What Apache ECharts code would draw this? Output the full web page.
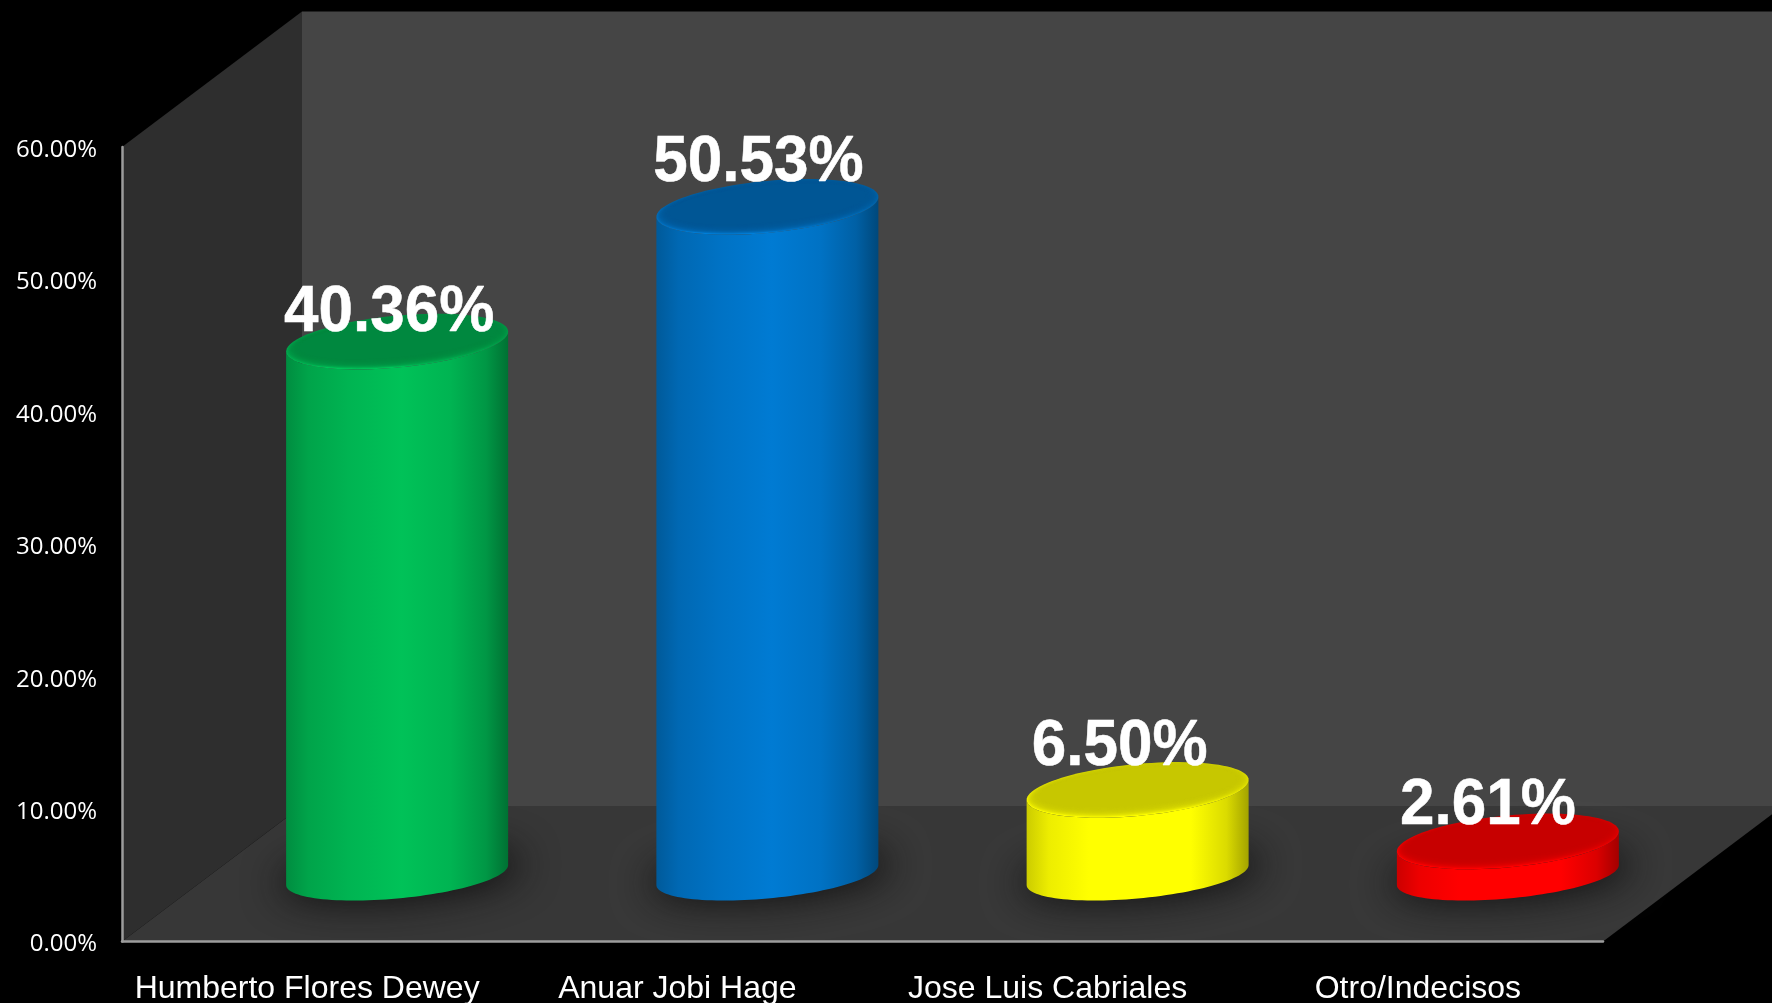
<!DOCTYPE html>
<html><head><meta charset="utf-8">
<style>html,body{margin:0;padding:0;background:#000;overflow:hidden}#c{width:1772px;height:1003px}</style>
<script src="https://cdn.jsdelivr.net/npm/echarts@6/dist/echarts.min.js"></script>
</head><body><div id="c"></div>
<script>
const categories = ['Humberto Flores Dewey', 'Anuar Jobi Hage', 'Jose Luis Cabriales', 'Otro/Indecisos'];
const values = [40.36, 50.53, 6.50, 2.61];
const barColors = [[0,176,80], [0,112,192], [255,255,0], [255,0,0]];
// manual label nudges of the source chart, in pixels from the cylinder's top centre
const labelNudgeX = [-8, -9, -18, -20];
const labelNudgeY = [-29, -44, -43, -36];

const DEPTH = [180, -135.5];
const BAR_SHIFT = [90, -65.5];
const RX = 111, TILT = 10;
const OFFSTAGE = 4000;

function shade(c, f, a) {
  const v = c.map(x => Math.min(255, Math.round(x * f)));
  return a == null ? `rgb(${v})` : `rgba(${v},${a})`;
}
function ell(cx, cy, a, b, s, t0, t1, n) {
  const p = [];
  for (let i = 0; i <= n; i++) {
    const t = t0 + (t1 - t0) * i / n;
    p.push([cx + a * Math.cos(t), cy + b * Math.sin(t) - s * Math.cos(t)]);
  }
  return p;
}
const grad = (x, y, x2, y2, stops) => new echarts.graphic.LinearGradient(x, y, x2, y2, stops);

function renderFrame(params, api) {
  const g = params.coordSys;
  const l = g.x, r = g.x + g.width, t = g.y, b = g.y + g.height;
  const dx = DEPTH[0], dy = DEPTH[1];
  const poly = (points, fill) => ({ type: 'polygon', shape: { points }, style: { fill } });
  return { type: 'group', children: [
    poly([[l + dx, t + dy], [r + dx, t + dy], [r + dx, b + dy], [l + dx, b + dy]], '#454545'),
    poly([[l, t], [l + dx, t + dy], [l + dx, b + dy], [l, b]], '#2e2e2e'),
    poly([[l, b], [l + dx, b + dy], [r + dx, b + dy], [r, b]], '#373737')
  ]};
}

function renderCylinder(params, api) {
  const i = api.value(0), v = api.value(1);
  const c0 = barColors[i];
  const p = api.coord([i, v]), p0 = api.coord([i, 0]);
  const cx = p[0] + BAR_SHIFT[0], ty = p[1] + BAR_SHIFT[1], by = p0[1] + BAR_SHIFT[1] - 1;
  const bT = 26, bB = 23.5;
  const side = grad(0, 0, 1, 0, [
    { offset: 0, color: shade(c0, 0.8) },
    { offset: 0.1, color: shade(c0, 0.93) },
    { offset: 0.28, color: shade(c0, 1.02) },
    { offset: 0.52, color: shade(c0, 1.1) },
    { offset: 0.74, color: shade(c0, 1.02) },
    { offset: 0.9, color: shade(c0, 0.86) },
    { offset: 1, color: shade(c0, 0.64) }
  ]);
  const outline = ell(cx, ty, RX, bT, TILT, Math.PI, 0, 40).concat(ell(cx, by, RX, bB, TILT, 0, Math.PI, 60));
  const rim = grad(0, 0, 0, 1, [
    { offset: 0, color: shade(c0, 0.8) },
    { offset: 0.5, color: shade(c0, 0.9) },
    { offset: 0.92, color: shade(c0, 1.03) },
    { offset: 0.98, color: shade(c0, 1.14) },
    { offset: 1, color: shade(c0, 1.0) }
  ]);
  const innerCol = shade(c0, 0.78, 0.3);
  const label = values[i].toFixed(2) + '%';
  const children = [
    // soft floor shadow: the casting ellipse sits off-canvas, only its blur lands here
    { type: 'polygon', shape: { points: ell(cx + 3 - OFFSTAGE, by - 1, RX + 10, bB + 2, TILT, 0, Math.PI * 2, 80) },
      style: { fill: '#000', shadowBlur: 38, shadowOffsetX: OFFSTAGE, shadowColor: 'rgba(14,14,14,0.95)' } },
    { type: 'polygon', shape: { points: outline }, style: { fill: side } },
    { type: 'polygon', shape: { points: ell(cx, ty, RX, bT, TILT, 0, Math.PI * 2, 100) }, style: { fill: rim } }
  ];
  const STEPS = 10;
  for (let k = 1; k <= STEPS; k++) {
    children.push({ type: 'polygon',
      shape: { points: ell(cx, ty - k * 0.28, RX - k * 1.3, bT - k * 0.75, TILT * (1 - k * 0.012), 0, Math.PI * 2, 100) },
      style: { fill: innerCol } });
  }
  children.push({ type: 'text', z2: 50, x: cx + labelNudgeX[i], y: ty + labelNudgeY[i], scaleY: 1.06,
    style: { text: label, x: 0, y: 0, fill: '#fff', stroke: '#fff', lineWidth: 0.5,
      font: 'bold 62px "Liberation Sans", Arial, sans-serif',
      align: 'center', verticalAlign: 'middle' } });
  return { type: 'group', children };
}

const chart = echarts.init(document.getElementById('c'), null, { renderer: 'canvas' });
chart.setOption({
  backgroundColor: '#000',
  animation: false,
  grid: { left: 122, right: 169, top: 147, bottom: 61.5, containLabel: false, outerBoundsMode: 'none' },
  xAxis: {
    type: 'category', data: categories, z: 5,
    axisLine: { show: true, lineStyle: { color: '#9c9c9c', width: 2.5 } },
    axisTick: { show: false }, splitLine: { show: false },
    axisLabel: { interval: 0, margin: 32, color: '#fff', fontSize: 32, fontFamily: '"Liberation Sans", Arial, sans-serif' }
  },
  yAxis: {
    type: 'value', min: 0, max: 60, interval: 10, z: 5,
    axisLine: { show: true, lineStyle: { color: '#9c9c9c', width: 2.5 } },
    axisTick: { show: false }, splitLine: { show: false },
    axisLabel: { margin: 25, color: '#fff', fontSize: 24, fontFamily: '"Open Sans", sans-serif',
      verticalAlign: 'top', padding: [-9, 0, 0, 0], formatter: v => v.toFixed(2) + '%' }
  },
  series: [
    { type: 'custom', name: 'frame', z: 1, clip: false, silent: true, data: [[0, 0]],
      encode: { x: 0, y: 1 }, renderItem: renderFrame },
    { type: 'custom', name: 'share', z: 10, clip: false, silent: true,
      data: values.map((v, i) => [i, v]),
      encode: { x: 0, y: 1 }, renderItem: renderCylinder }
  ]
});
</script></body></html>
